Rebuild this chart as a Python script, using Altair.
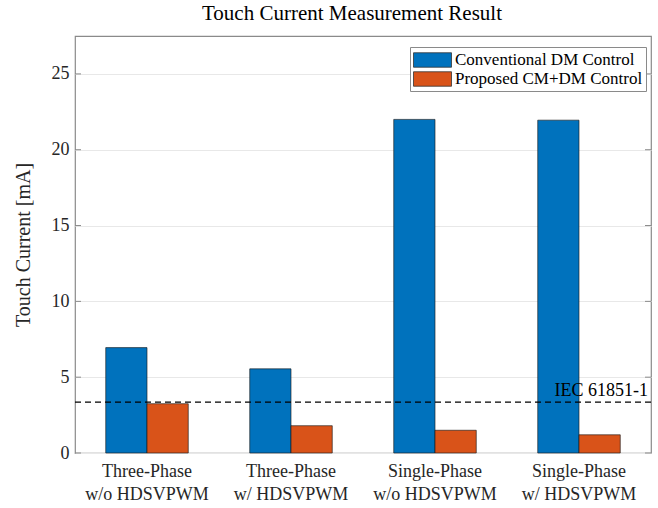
import altair as alt
import pandas as pd

# Touch current per operating condition, in mA
categories = [
    "Three-Phase\nw/o HDSVPWM",
    "Three-Phase\nw/ HDSVPWM",
    "Single-Phase\nw/o HDSVPWM",
    "Single-Phase\nw/ HDSVPWM",
]
series_names = ["Conventional DM Control", "Proposed CM+DM Control"]
conventional_dm = [6.95, 5.55, 22.0, 21.95]
proposed_cmdm = [3.25, 1.8, 1.5, 1.2]
series_colors = ["#0072BD", "#D95319"]

limit_value = 3.35
limit_label = "IEC 61851-1"
y_ticks = [0, 5, 10, 15, 20, 25]
y_max = 27.5

FONT = "Liberation Serif"
W, H = 576, 417

rows = []
for cat, a, b in zip(categories, conventional_dm, proposed_cmdm):
    rows.append({"category": cat, "series": series_names[0], "value": a})
    rows.append({"category": cat, "series": series_names[1], "value": b})
bars_df = pd.DataFrame(rows)

y_scale = alt.Scale(domain=[0, y_max], nice=False, zero=True)

bars = alt.Chart(bars_df).mark_bar(
    stroke="#1a1a1a", strokeWidth=0.8, strokeOpacity=0.8
).encode(
    x=alt.X(
        "category:N",
        sort=categories,
        scale=alt.Scale(paddingInner=0, paddingOuter=0),
        axis=alt.Axis(
            title=None,
            labelAngle=0,
            labelExpr="split(datum.label, '\\n')",
            labelFontSize=18,
            labelLineHeight=23,
            labelPadding=9,
            ticks=False,
            domain=False,
        ),
    ),
    xOffset=alt.XOffset(
        "series:N",
        sort=series_names,
        scale=alt.Scale(paddingInner=0, paddingOuter=0.745),
    ),
    y=alt.Y(
        "value:Q",
        scale=y_scale,
        axis=alt.Axis(
            title="Touch Current [mA]",
            values=y_ticks,
            titleFontSize=20,
            titleFontWeight="normal",
            titlePadding=18,
            labelFontSize=18,
            labelPadding=6,
            ticks=False,
            domain=False,
            grid=True,
            gridColor="#e8e8e8",
        ),
    ),
    color=alt.Color(
        "series:N",
        sort=series_names,
        scale=alt.Scale(domain=series_names, range=series_colors),
        legend=alt.Legend(
            title=None,
            orient="none",
            legendX=335,
            legendY=11,
            fillColor="white",
            strokeColor="#8a8a8a",
            padding=3,
            # wide rectangular swatch, drawn from the symbol's left edge
            symbolType="M-1,-0.76H3V0.76H-1Z",
            symbolSize=361,
            symbolStrokeColor="#333333",
            symbolStrokeWidth=0.8,
            symbolOpacity=1,
            labelFont=FONT,
            labelFontSize=17,
            labelColor="black",
            labelOffset=22,
            rowPadding=0,
            labelLimit=400,
        ),
    ),
)

# inward tick marks on the left and right frame edges
ticks_df = pd.DataFrame({"tick": y_ticks})
left_ticks = alt.Chart(ticks_df).mark_rule(color="#8a8a8a", strokeWidth=1).encode(
    y=alt.Y("tick:Q", scale=y_scale),
    x=alt.value(0),
    x2=alt.value(6),
)
right_ticks = alt.Chart(ticks_df).mark_rule(color="#8a8a8a", strokeWidth=1).encode(
    y=alt.Y("tick:Q", scale=y_scale),
    x=alt.value(W - 6),
    x2=alt.value(W),
)

limit_df = pd.DataFrame({"limit": [limit_value], "label": [limit_label]})
limit_rule = alt.Chart(limit_df).mark_rule(
    color="black", strokeWidth=1.3, strokeDash=[6, 4]
).encode(y=alt.Y("limit:Q", scale=y_scale))
limit_text = alt.Chart(limit_df).mark_text(
    align="right", baseline="bottom", dx=-3, dy=-2,
    font=FONT, fontSize=18, color="black",
).encode(
    y=alt.Y("limit:Q", scale=y_scale),
    x=alt.value(W),
    text="label:N",
)

chart = alt.layer(bars, left_ticks, right_ticks, limit_rule, limit_text).properties(
    width=W,
    height=H,
    title=alt.Title(
        "Touch Current Measurement Result",
        font=FONT,
        fontSize=21,
        fontWeight="normal",
        color="black",
        anchor="middle",
        dx=-11,
        offset=12,
    ),
    autosize=alt.AutoSizeParams(type="none"),
    padding={"left": 75, "top": 36, "right": 7, "bottom": 55},
).configure(
    font=FONT,
    background="white",
).configure_view(
    stroke="#8a8a8a", strokeWidth=1.2,
).configure_axis(
    labelFont=FONT,
    titleFont=FONT,
    labelColor="#262626",
    titleColor="#262626",
).configure_legend(
    labelFont=FONT,
)

chart.save("out.html", embed_options={"renderer": "svg", "actions": False})
